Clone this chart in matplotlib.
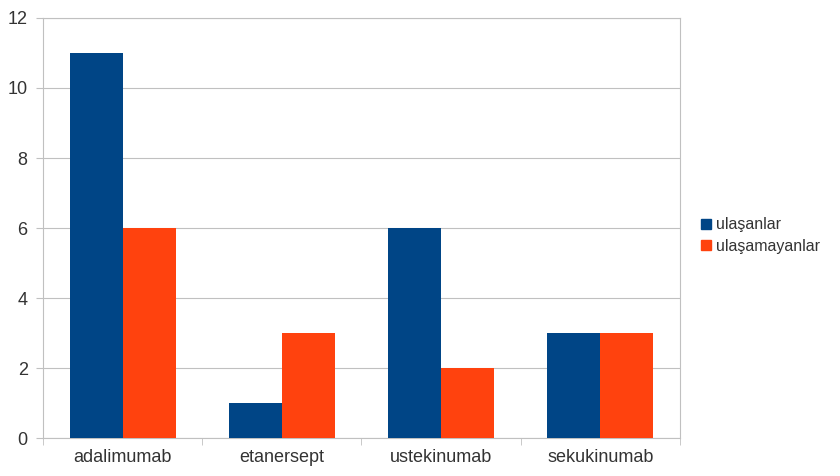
import numpy as np
import matplotlib.pyplot as plt
from matplotlib.patches import Patch

categories = ['adalimumab', 'etanersept', 'ustekinumab', 'sekukinumab']
ulasanlar = [11, 1, 6, 3]
ulasamayanlar = [6, 3, 2, 3]
series_names = ['ulaşanlar', 'ulaşamayanlar']
yticks = [0, 2, 4, 6, 8, 10, 12]

blue = '#004586'
orange = '#ff420e'
grid_gray = '#c0c0c0'
text_gray = '#333333'


def main():
    plt.rcParams['font.family'] = ['Liberation Sans', 'DejaVu Sans']

    fig = plt.figure(figsize=(8.4, 4.76), dpi=100)
    ax = fig.add_axes([0.0512, 0.0798, 0.7583, 0.8824])

    x = np.arange(len(categories))
    w = 0.333
    ax.bar(x - w / 2, ulasanlar, w, color=blue, zorder=3)
    ax.bar(x + w / 2, ulasamayanlar, w, color=orange, zorder=3)

    ax.set_xlim(-0.5, len(categories) - 0.5)
    ax.set_ylim(0, 12)
    ax.set_yticks(yticks)
    ax.tick_params(axis='y', labelsize=13, colors=grid_gray, labelcolor=text_gray,
                   length=5, pad=6)

    # category labels centred, tick marks on the boundaries between groups
    ax.set_xticks(x)
    ax.set_xticklabels(categories)
    ax.tick_params(axis='x', which='major', length=0, labelsize=13,
                   labelcolor=text_gray, pad=8)
    ax.set_xticks(np.arange(-0.5, len(categories)), minor=True)
    ax.tick_params(axis='x', which='minor', length=5, color=grid_gray)

    ax.yaxis.grid(True, color=grid_gray, linewidth=0.8, zorder=0)
    for s in ax.spines.values():
        s.set_color(grid_gray)
        s.set_linewidth(0.8)

    handles = [Patch(color=blue), Patch(color=orange)]
    fig.legend(handles, series_names, loc='center left',
               bbox_to_anchor=(0.818, 0.505), frameon=False, fontsize=11.5,
               handlelength=0.6, handleheight=0.6, handletextpad=0.3,
               labelspacing=0.4, labelcolor=text_gray)

    fig.savefig('out.png', dpi=100)


if __name__ == '__main__':
    main()
